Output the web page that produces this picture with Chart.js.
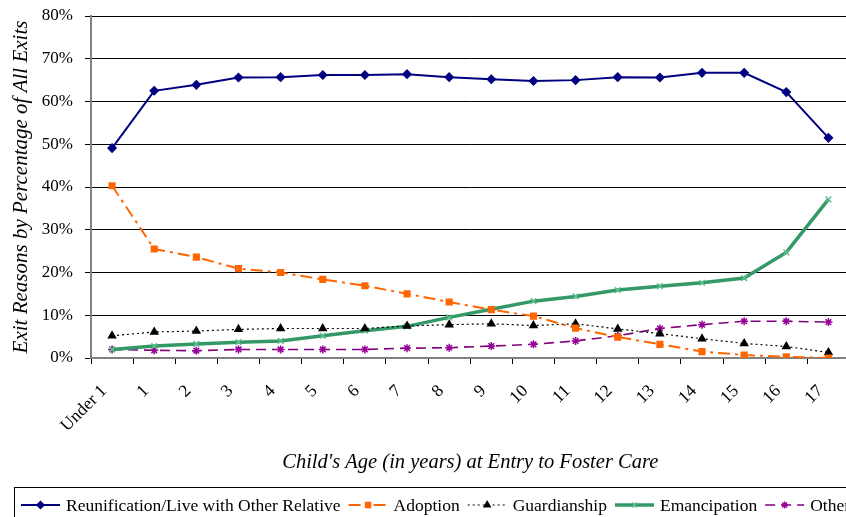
<!DOCTYPE html>
<html>
<head>
<meta charset="utf-8">
<script src="https://cdn.jsdelivr.net/npm/chart.js@4.4.1/dist/chart.umd.min.js"></script>
<style>
  html, body { margin: 0; padding: 0; background: #fff; overflow: hidden; }
  #wrap { width: 855px; height: 517px; }
</style>
</head>
<body>
<div id="wrap"><canvas id="exits" width="855" height="517"></canvas></div>
<script>
const ages = ['Under 1', '1', '2', '3', '4', '5', '6', '7', '8', '9', '10', '11', '12', '13', '14', '15', '16', '17']
const reunification = [49.1, 62.5, 63.9, 65.6, 65.7, 66.2, 66.2, 66.4, 65.7, 65.2, 64.8, 65.0, 65.7, 65.6, 66.7, 66.7, 62.2, 51.5]
const adoption = [40.3, 25.5, 23.6, 20.9, 20.0, 18.4, 16.9, 15.0, 13.1, 11.3, 9.8, 7.0, 4.9, 3.2, 1.5, 0.7, 0.3, 0.0]
const guardianship = [5.2, 6.1, 6.3, 6.7, 6.9, 6.9, 6.9, 7.5, 7.8, 8.0, 7.6, 8.0, 6.8, 5.7, 4.5, 3.4, 2.7, 1.3]
const emancipation = [2.0, 2.8, 3.3, 3.7, 4.0, 5.2, 6.4, 7.4, 9.5, 11.4, 13.3, 14.4, 15.9, 16.8, 17.6, 18.7, 24.7, 37.1]
const other = [2.0, 1.8, 1.7, 2.0, 2.0, 2.0, 2.0, 2.3, 2.4, 2.8, 3.2, 4.0, 5.2, 6.9, 7.8, 8.6, 8.6, 8.4]

const serif = "'Liberation Serif', 'Times New Roman', serif"

const series = (label, data, color, width, dash, pointStyle, pointColor) => ({
  label,
  data,
  borderColor: color,
  borderWidth: width,
  borderDash: dash,
  pointStyle,
  pointRadius: 4,
  pointBorderWidth: 1.5,
  pointBackgroundColor: pointColor,
  pointBorderColor: pointColor,
  tension: 0,
  fill: false,
})

// legend drawn by hand so it can run off the right edge like the original
const boxLegend = {
  id: 'boxLegend',
  afterDraw(chart) {
    const ctx = chart.ctx
    const y = 505
    ctx.save()
    ctx.strokeStyle = '#000'
    ctx.lineWidth = 1
    ctx.strokeRect(14.5, 487.5, 900, 60)
    ctx.font = '17.5px ' + serif
    ctx.textBaseline = 'middle'
    let x = 21
    chart.data.datasets.forEach(ds => {
      ctx.save()
      ctx.strokeStyle = ds.borderColor
      ctx.lineWidth = ds.borderWidth
      ctx.setLineDash(ds.borderDash || [])
      ctx.beginPath()
      ctx.moveTo(x, y)
      ctx.lineTo(x + 39, y)
      ctx.stroke()
      ctx.setLineDash([])
      ctx.fillStyle = ds.pointBackgroundColor
      ctx.strokeStyle = ds.pointBorderColor
      ctx.lineWidth = 1.5
      Chart.helpers.drawPoint(ctx, { pointStyle: ds.pointStyle, radius: 3.5, rotation: 0, borderWidth: 1.5 }, x + 19.5, y)
      ctx.restore()
      ctx.fillStyle = '#000'
      ctx.fillText(ds.label, x + 45, y + 1)
      x += 45 + ctx.measureText(ds.label).width + 8
    })
    ctx.restore()
  },
}

new Chart(document.getElementById('exits'), {
  type: 'line',
  data: {
    labels: ages,
    datasets: [
      series('Reunification/Live with Other Relative', reunification, '#000080', 2, [], 'rectRot', '#000080'),
      series('Adoption', adoption, '#FF6600', 2, [12, 5, 3, 5], 'rect', '#FF6600'),
      series('Guardianship', guardianship, '#000000', 1.2, [2, 3], 'triangle', '#000000'),
      series('Emancipation', emancipation, '#339966', 3.5, [], 'crossRot', '#5fbf8a'),
      series('Other', other, '#800080', 1.6, [10, 6], 'star', '#990099'),
    ],
  },
  options: {
    responsive: false,
    animation: false,
    layout: { padding: { top: 16, bottom: 40, left: 0, right: 0 } },
    plugins: {
      legend: { display: false },
      tooltip: { enabled: false },
    },
    scales: {
      x: {
        offset: true,
        afterFit: scale => {
          scale.height = 119
          scale.paddingLeft = 0
          scale.paddingRight = 0
        },
        grid: { display: true, drawOnChartArea: false, offset: true, color: '#000', tickLength: 6 },
        border: { color: '#808080', width: 2 },
        ticks: {
          color: '#000',
          font: { family: serif, size: 17.5 },
          minRotation: 45,
          maxRotation: 45,
          autoSkip: false,
          padding: 17,
          labelOffset: -8,
        },
        title: {
          display: true,
          text: "Child's Age (in years) at Entry to Foster Care",
          color: '#000',
          font: { family: serif, size: 20.5, style: 'italic' },
          padding: { top: 0, bottom: 2 },
        },
      },
      y: {
        min: 0,
        max: 80,
        afterFit: scale => {
          scale.width = 91
          scale.paddingTop = 8
          scale.paddingBottom = 8
        },
        grid: { color: '#000', lineWidth: 1, tickLength: 6 },
        border: { color: '#808080', width: 2 },
        ticks: {
          stepSize: 10,
          color: '#000',
          padding: 12,
          font: { family: serif, size: 17 },
          callback: v => v + '%',
        },
        title: {
          display: true,
          text: 'Exit Reasons by Percentage of All Exits',
          color: '#000',
          font: { family: serif, size: 21, style: 'italic' },
          padding: { top: 9, bottom: 0 },
        },
      },
    },
  },
  plugins: [boxLegend],
})
</script>
</body>
</html>
